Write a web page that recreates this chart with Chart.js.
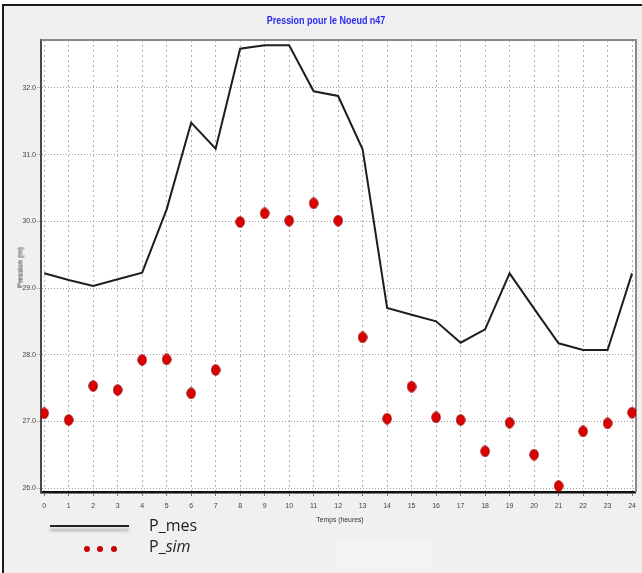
<!DOCTYPE html>
<html>
<head>
<meta charset="utf-8">
<script src="https://cdn.jsdelivr.net/npm/chart.js@4/dist/chart.umd.min.js"></script>
<style>
  html, body { margin: 0; padding: 0; background: #ffffff; }
  #wrap { position: relative; width: 642px; height: 573px; overflow: hidden; }
  #frame { position: absolute; left: 2px; top: 4px; width: 640px; height: 569px;
           background: #f0f0f0; border-top: 2px solid #1a1a1a; border-left: 2px solid #1a1a1a; box-sizing: border-box; }
  canvas { position: absolute; left: 0; top: 0; }
  .txt { position: absolute; white-space: nowrap; color: #333; font-family: 'Liberation Sans Narrow', 'Liberation Sans', Arial, sans-serif; }
  #title { left: 226px; width: 200px; top: 14px; text-align: center; font-size: 11.5px; font-weight: bold; color: #2b2bf0;
           transform: scaleX(0.78); transform-origin: 100px 0; }
  #xtitle { left: 290px; width: 100px; top: 515px; text-align: center; font-size: 8px; transform: scaleX(0.85); }
  #ytitle { left: -30px; width: 100px; top: 263px; text-align: center; font-size: 8px; color: #222;
            transform: rotate(-90deg) scaleX(0.9); }
  .leg { position: absolute; font-family: 'Open Sans', 'Liberation Sans', sans-serif; font-size: 16px; color: #222; white-space: nowrap; }
  #legLine { position: absolute; left: 50px; top: 525px; width: 79px; height: 2px; background: #222;
             box-shadow: 0 4px 3px rgba(110,110,110,0.55); }
  .dot { position: absolute; width: 6px; height: 6px; border-radius: 50%; background: #c80000; }
  #pale { position: absolute; left: 335px; top: 538px; width: 98px; height: 32px; background: #f3f3f3; }
</style>
</head>
<body>
<div id="wrap">
  <div id="frame"></div>
  <div id="pale"></div>
  <canvas id="c" width="642" height="573"></canvas>
  <div class="txt" id="title">Pression pour le Noeud n47</div>
  <div class="txt" id="xtitle">Temps (heures)</div>
  <div class="txt" id="ytitle">Pression (m)</div>
  <div id="legLine"></div>
  <div class="leg" style="left:149px; top:514px;">P_mes</div>
  <div class="dot" style="left:84px; top:546px;"></div>
  <div class="dot" style="left:97px; top:546px;"></div>
  <div class="dot" style="left:111px; top:546px;"></div>
  <div class="leg" style="left:149px; top:535px;">P_<i>sim</i></div>
</div>
<script>
// Hours of the day (x categories)
const hours = [0,1,2,3,4,5,6,7,8,9,10,11,12,13,14,15,16,17,18,19,20,21,22,23,24];
// Measured pressure (m)
const pMes = [29.22,29.12,29.03,29.13,29.23,30.18,31.48,31.09,32.59,32.64,32.64,31.95,31.88,31.08,28.70,28.60,28.50,28.18,28.38,29.22,28.69,28.17,28.07,28.07,29.22];
// Simulated pressure (m)
const pSim = [27.12,27.02,27.53,27.47,27.92,27.93,27.42,27.77,29.99,30.12,30.01,30.27,30.01,28.26,27.04,27.52,27.06,27.02,26.55,26.98,26.50,26.03,26.85,26.97,27.13];
// Axis tick values
const xTicks = hours.slice();
const yTicks = [26,27,28,29,30,31,32];

// Slightly tall red marker used for the simulated points
const marker = document.createElement('canvas');
marker.width = 10; marker.height = 12;
(function () {
  const g = marker.getContext('2d');
  g.beginPath();
  g.ellipse(5, 6, 4.2, 5.2, 0, 0, Math.PI * 2);
  g.fillStyle = '#dc0000';
  g.fill();
  g.lineWidth = 1;
  g.strokeStyle = '#9a0000';
  g.stroke();
})();

const plotFrame = {
  id: 'plotFrame',
  beforeDraw(chart) {
    const a = chart.chartArea, ctx = chart.ctx;
    ctx.save();
    ctx.fillStyle = '#ffffff';
    ctx.fillRect(a.left, a.top, a.right - a.left, a.bottom - a.top);
    ctx.restore();
  },
  beforeDatasetsDraw(chart) {
    const a = chart.chartArea, ctx = chart.ctx;
    ctx.save();
    ctx.strokeStyle = '#8a8a8a';
    ctx.lineWidth = 2;
    ctx.beginPath();
    ctx.moveTo(a.left, a.top);
    ctx.lineTo(a.right, a.top);
    ctx.lineTo(a.right, a.bottom);
    ctx.stroke();
    ctx.restore();
  }
};

const fontSpec = { family: "'Liberation Sans Narrow', 'Liberation Sans', Arial, sans-serif", size: 7 };

new Chart(document.getElementById('c'), {
  type: 'line',
  data: {
    datasets: [
      {
        label: 'P_mes',
        data: hours.map((h, i) => ({ x: h, y: pMes[i] })),
        borderColor: '#1e1e1e',
        borderWidth: 2,
        pointRadius: 0,
        tension: 0,
        fill: false
      },
      {
        label: 'P_sim',
        data: hours.map((h, i) => ({ x: h, y: pSim[i] })),
        showLine: false,
        pointStyle: marker,
        pointRadius: 5,
        backgroundColor: '#dc0000',
        borderColor: '#9a0000'
      }
    ]
  },
  options: {
    responsive: false,
    animation: false,
    layout: { padding: { top: 40, right: 4, left: 0, bottom: 61 } },
    plugins: { legend: { display: false }, title: { display: false }, tooltip: { enabled: false } },
    scales: {
      x: {
        type: 'linear',
        min: -0.13,
        max: 24.16,
        afterFit(s) { s.height = 20; },
        afterBuildTicks(s) { s.ticks = xTicks.map(v => ({ value: v })); },
        ticks: { font: fontSpec, color: '#444', padding: 6, maxRotation: 0, autoSkip: false,
                 callback: v => String(v) },
        grid: { color: '#b0b0b0', lineWidth: 1, drawTicks: true, tickLength: 4,
                tickColor: '#777', tickBorderDash: [] },
        border: { display: true, color: '#111', width: 2.5, dash: [2, 3] }
      },
      y: {
        type: 'linear',
        min: 25.94,
        max: 32.72,
        afterFit(s) { s.width = 41; },
        afterBuildTicks(s) { s.ticks = yTicks.map(v => ({ value: v })); },
        ticks: { font: fontSpec, color: '#444', padding: 1, callback: v => Number(v).toFixed(1) },
        grid: { color: '#a0a0a0', lineWidth: 1, drawTicks: true, tickLength: 4,
                tickColor: '#999', tickBorderDash: [1, 1] },
        border: { display: true, color: '#4a4a4a', width: 2, dash: [1, 2] }
      }
    }
  },
  plugins: [plotFrame]
});
</script>
</body>
</html>
